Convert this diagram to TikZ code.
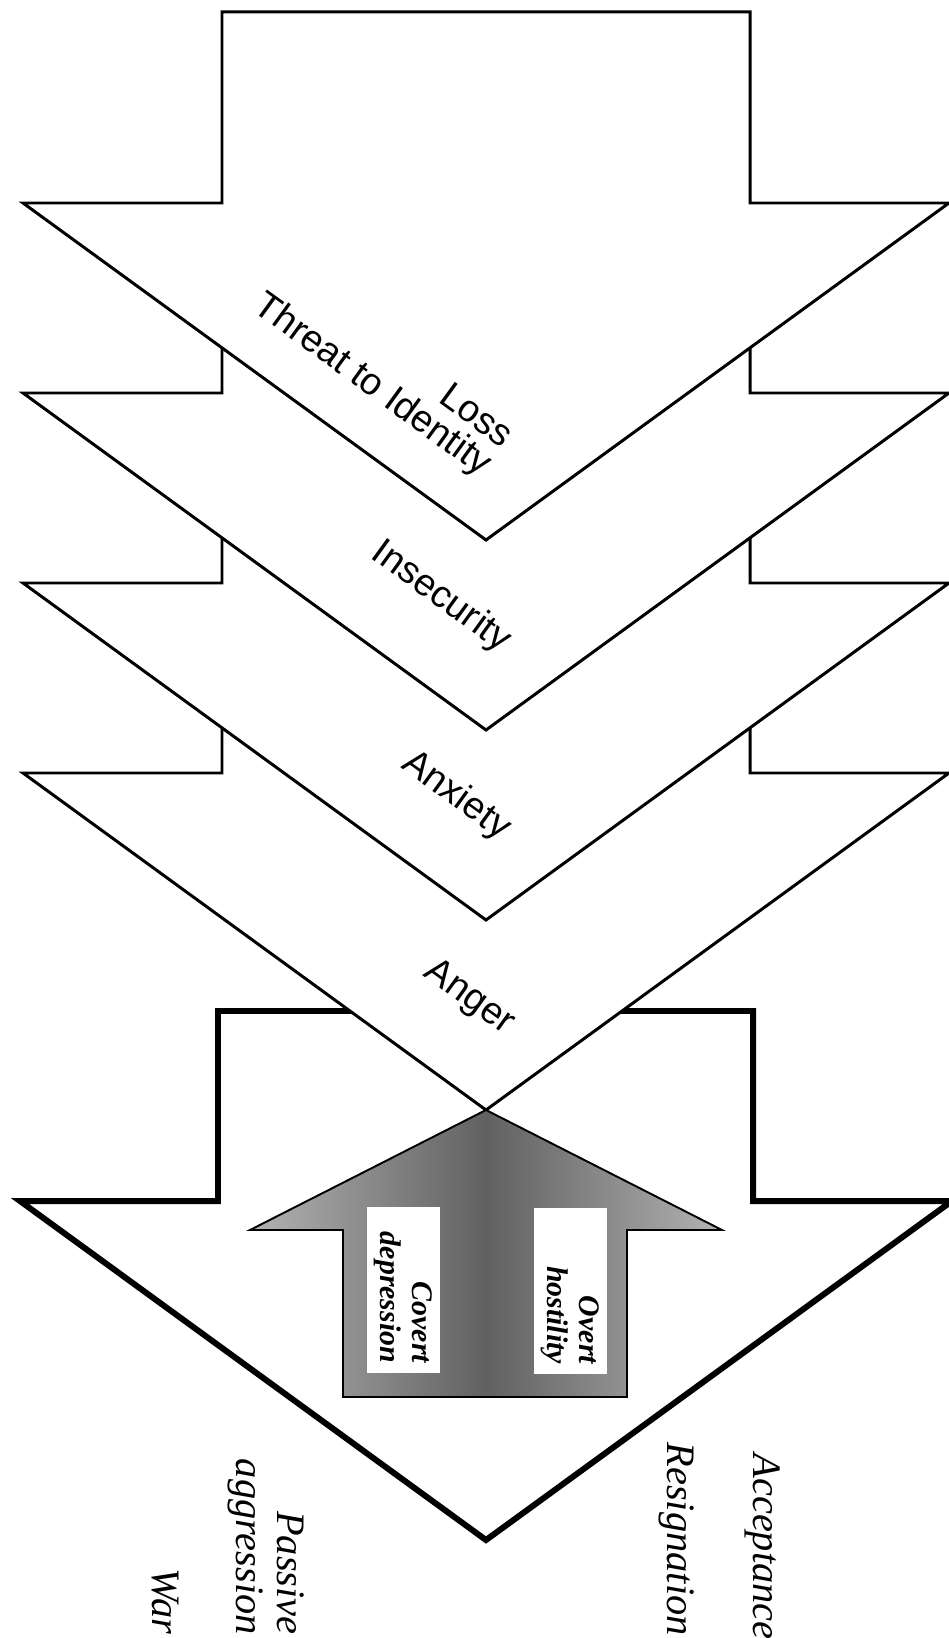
\documentclass[tikz,border=0pt]{standalone}
\usepackage{fontspec}
\setmainfont{Liberation Serif}
\setsansfont{Liberation Sans}
\usetikzlibrary{positioning}

\tikzset{
  chev/.style={draw=black,fill=white,line width=1.7pt},
  bigchev/.style={draw=black,fill=white,line width=3.4pt},
  feeling/.style={font=\sffamily\fontsize{21.5}{20}\selectfont,rotate=-36,align=right,inner sep=0pt},
  outcome/.style={font=\itshape\fontsize{23}{23}\selectfont,rotate=-90,align=right,anchor=east,inner sep=0pt},
  labelbox/.style={fill=white,rotate=-90,align=right,text width=2.92cm,minimum height=1.46cm,inner xsep=0.2cm,inner ysep=0pt,font=\bfseries\itshape\fontsize{17}{18}\selectfont}
}

\begin{document}
\begin{tikzpicture}[x=0.02cm,y=-0.02cm]
\useasboundingbox (0,0) rectangle (948,1638);
\newcommand{\chevpath}[3]{\draw[#1] (222,#2) -- (750,#2) -- (750,#3) -- (949,#3) -- (486,{#3+337}) -- (23,#3) -- (222,#3) -- cycle;}
% big arrow at the bottom
\draw[bigchev] (218,1011) -- (753,1011) -- (753,1201) -- (952,1201) -- (486,1540) -- (20,1201) -- (218,1201) -- cycle;
% chevrons, lowest first
\chevpath{chev}{623}{773}
\chevpath{chev}{433}{583}
\chevpath{chev}{243}{393}
\chevpath{chev}{12}{203}
% shaded arrow pointing up
\draw[line width=1.1pt,left color=black!30,right color=black!30,middle color=black!62] (343,1397) -- (343,1230) -- (250,1230) -- (486,1110) -- (722,1230) -- (627,1230) -- (627,1397) -- cycle;
\node[labelbox] (covert) at (403,1290) {Covert\\depression};
\node[labelbox] (overt) at (570,1291) {Overt\\hostility};
% labels on the chevrons
\node[feeling] (loss) at (382,372) {Loss\\Threat to Identity};
\node[feeling] (insecurity) at (441,597) {Insecurity};
\node[feeling] (anxiety) at (456,796) {Anxiety};
\node[feeling] (anger) at (469,998) {Anger};
% outcomes
\node[outcome] (acceptance) at (763,1640) {Acceptance};
\node[outcome] (resignation) at (677,1636) {Resignation};
\node[outcome] (passive) at (266,1635) {Passive\\aggression};
\node[outcome] (war) at (165,1635) {War};
\end{tikzpicture}
\end{document}
